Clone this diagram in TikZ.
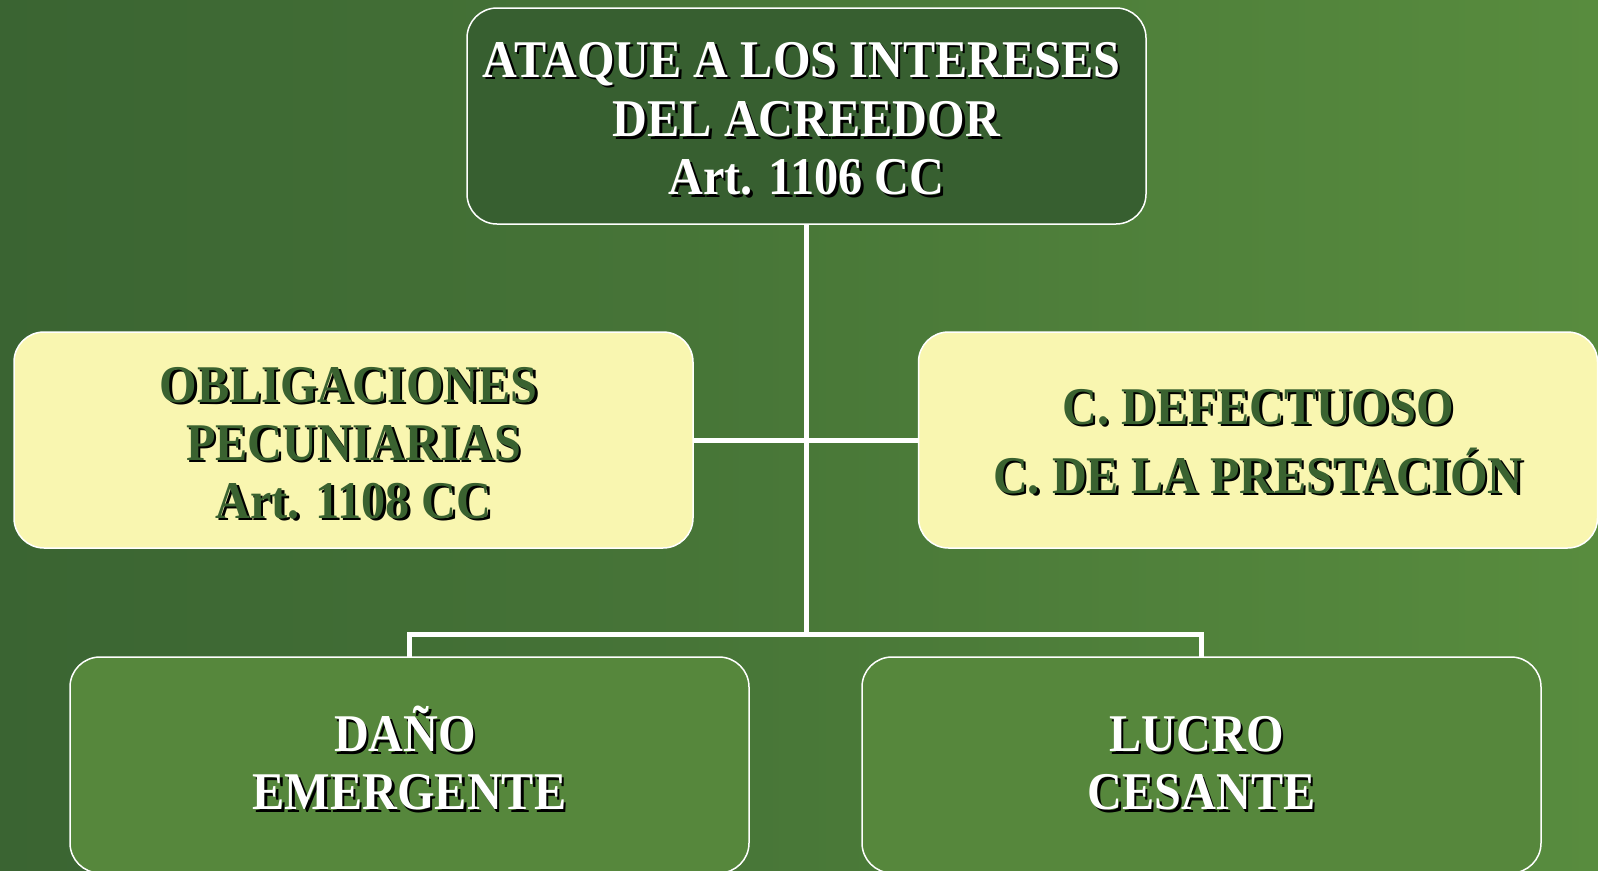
\documentclass[tikz,border=0pt]{standalone}
\usepackage{fontspec}
\setmainfont{Liberation Serif}[FakeStretch=0.91]
\definecolor{bgL}{HTML}{3A6432}
\definecolor{bgR}{HTML}{588C3E}
\definecolor{topfill}{HTML}{375F30}
\definecolor{botfill}{HTML}{56873C}
\definecolor{yel}{HTML}{F9F6B0}
\definecolor{dtext}{HTML}{3A6230}
\newcommand{\sh}[2][white]{\rule[-7pt]{0pt}{54pt}\makebox[0pt][l]{\kern2.5pt\raisebox{-2.5pt}{\color{black}#2}}{\color{#1}#2}}
\newcommand{\lowstrut}{\rule[-16pt]{0pt}{1pt}}
\tikzset{
  box/.style={draw=white, line width=1.5pt, rounded corners=30pt,
    minimum width=679pt, minimum height=216pt, align=center, inner sep=0pt,
    font=\fontsize{53}{58}\selectfont\bfseries},
  conn/.style={draw=white, line width=5pt}
}
\begin{document}
\begin{tikzpicture}[x=1pt,y=-1pt]
\fill[left color=bgL,right color=bgR] (0,0) rectangle (1598,870);
\useasboundingbox (0,0) rectangle (1598,870);
\coordinate (jb) at (806,634);
\draw[conn] (806,224) -- (jb);
\draw[conn] (694,440) -- (919,440);
\draw[conn] (409.5,657) |- (jb) -| (1201.5,657);
\node[box, fill=topfill] (top) at (806.5,116) {\sh{ATAQUE A LOS INTERESES}\kern10pt\\ \sh{DEL ACREEDOR}\\ \sh{Art. 1106 CC}};
\node[box, fill=yel] (left) at (353.5,440) {\sh[dtext]{OBLIGACIONES}\kern10pt\\ \sh[dtext]{PECUNIARIAS}\\ \sh[dtext]{Art. 1108 CC}};
\node[box, fill=yel] (right) at (1258,440) {\sh[dtext]{C. DEFECTUOSO}\\[11pt] \sh[dtext]{C. DE LA PRESTACIÓN}\rule[-10pt]{0pt}{1pt}};
\node[box, fill=botfill] (bl) at (409.5,765) {\sh{DAÑO}\kern9pt\\ \sh{EMERGENTE}\lowstrut};
\node[box, fill=botfill] (br) at (1201.5,765) {\sh{LUCRO}\kern10pt\\ \sh{CESANTE}\lowstrut};
\end{tikzpicture}
\end{document}
